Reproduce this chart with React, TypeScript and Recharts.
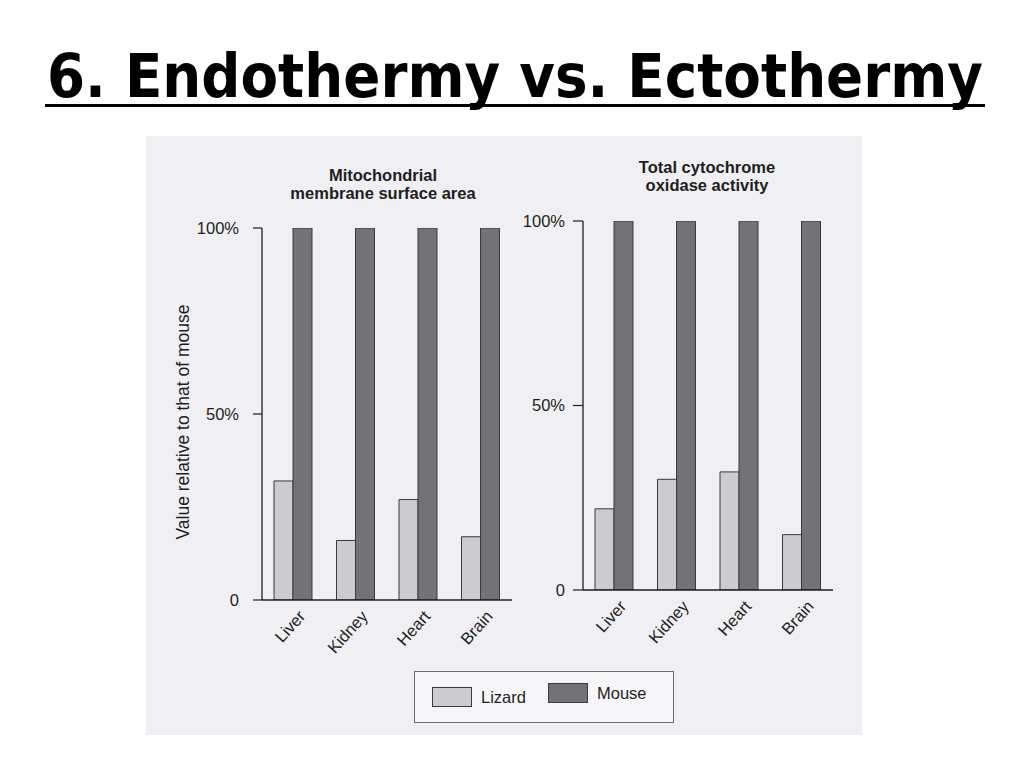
import React from "react";
import { BarChart, Bar, XAxis, YAxis, Label } from "recharts";

// ---- data ----
const categories = ["Liver", "Kidney", "Heart", "Brain"];
const mitoLizard = [32, 16, 27, 17];
const mitoMouse = [100, 100, 100, 100];
const cytoLizard = [22, 30, 32, 15];
const cytoMouse = [100, 100, 100, 100];
const yTicks = [0, 50, 100];
const seriesNames = ["Lizard", "Mouse"];
const panelTitles = [
  ["Mitochondrial", "membrane surface area"],
  ["Total cytochrome", "oxidase activity"],
];
const yLabel = "Value relative to that of mouse";
const mainTitle = "6. Endothermy vs. Ectothermy";

const LIZ = "#cbcbd0";
const MOU = "#737377";
const STROKE = "#3a3a3c";
const INK = "#1e1e20";
const FONT = "'Liberation Sans', Arial, Helvetica, sans-serif";

const mitoData = categories.map((c, i) => ({ name: c, Lizard: mitoLizard[i], Mouse: mitoMouse[i] }));
const cytoData = categories.map((c, i) => ({ name: c, Lizard: cytoLizard[i], Mouse: cytoMouse[i] }));
const colors: Record<string, string> = { Lizard: LIZ, Mouse: MOU };

const fmtY = (v: number) => (v === 0 ? "0" : `${v}%`);

const XTick = (props: any) => {
  const { x, y, payload } = props;
  return (
    <text
      x={0}
      y={0}
      transform={`translate(${x + 13},${y + 9}) rotate(-48)`}
      textAnchor="end"
      fontSize={16.5}
      fill={INK}
      fontFamily={FONT}
    >
      {payload.value}
    </text>
  );
};

const YLabelContent = (props: any) => {
  const { viewBox } = props;
  const cx = viewBox.x - 19;
  const cy = viewBox.y + 194;
  return (
    <text
      x={cx}
      y={cy}
      transform={`rotate(-90, ${cx}, ${cy})`}
      textAnchor="middle"
      dominantBaseline="central"
      fontSize={17.5}
      fill={INK}
      fontFamily={FONT}
    >
      {yLabel}
    </text>
  );
};

function Panel(props: {
  data: any[];
  width: number;
  height: number;
  margin: any;
  tickSize: number;
  tickMargin: number;
  withLabel: boolean;
}) {
  const { data, width, height, margin, tickSize, tickMargin, withLabel } = props;
  return (
    <BarChart
      width={width}
      height={height}
      data={data}
      margin={margin}
      barGap={0}
      barCategoryGap={12}
    >
      <XAxis
        dataKey="name"
        tickLine={false}
        axisLine={{ stroke: INK, strokeWidth: 1.3 }}
        tick={<XTick />}
        interval={0}
        height={60}
      />
      <YAxis
        domain={[0, 100]}
        ticks={yTicks}
        tickFormatter={fmtY}
        width={60}
        tickSize={tickSize}
        tickMargin={tickMargin}
        axisLine={{ stroke: INK, strokeWidth: 1.3 }}
        tickLine={{ stroke: INK, strokeWidth: 1.2 }}
        tick={{ fontSize: 16.5, fill: INK, fontFamily: FONT }}
        allowDataOverflow
      >
        {withLabel ? <Label content={<YLabelContent />} /> : null}
      </YAxis>
      {seriesNames.map((s) => (
        <Bar
          key={s}
          dataKey={s}
          fill={colors[s]}
          stroke={STROKE}
          strokeWidth={1}
          isAnimationActive={false}
        />
      ))}
    </BarChart>
  );
}

const titleStyle = (left: number, top: number): React.CSSProperties => ({
  position: "absolute",
  left,
  top,
  width: 260,
  textAlign: "center",
  fontFamily: FONT,
  fontWeight: "bold",
  fontSize: 16.5,
  lineHeight: "18px",
  color: INK,
});

export default function App() {
  return (
    <div
      style={{
        position: "absolute",
        left: 0,
        top: 0,
        width: 1024,
        height: 768,
        background: "#ffffff",
        overflow: "hidden",
      }}
    >
      {/* scanned page background */}
      <div
        style={{
          position: "absolute",
          left: 146,
          top: 136,
          width: 716,
          height: 599,
          background: "#f0f0f4",
        }}
      />
      {/* main title */}
      <svg width={1024} height={140} style={{ position: "absolute", left: 0, top: 0 }}>
        <text
          x={47}
          y={97}
          textLength={936}
          lengthAdjust="spacingAndGlyphs"
          fontFamily="'DejaVu Sans Condensed', 'DejaVu Sans', sans-serif"
          fontWeight="bold"
          fontSize={60}
          fill="#000"
        >
          {mainTitle}
        </text>
        <rect x={45} y={104} width={940} height={3} fill="#000" />
      </svg>

      {/* panel titles */}
      <div style={titleStyle(253, 166)}>
        {panelTitles[0][0]}
        <br />
        {panelTitles[0][1]}
      </div>
      <div style={titleStyle(577, 158)}>
        {panelTitles[1][0]}
        <br />
        {panelTitles[1][1]}
      </div>

      {/* left chart */}
      <div style={{ position: "absolute", left: 150, top: 140 }}>
        <Panel
          data={mitoData}
          width={380}
          height={530}
          margin={{ top: 88, right: 18, bottom: 10, left: 52 }}
          tickSize={9}
          tickMargin={14}
          withLabel
        />
      </div>

      {/* right chart */}
      <div style={{ position: "absolute", left: 520, top: 130 }}>
        <Panel
          data={cytoData}
          width={340}
          height={540}
          margin={{ top: 91, right: 27, bottom: 20, left: 3 }}
          tickSize={10}
          tickMargin={8}
          withLabel={false}
        />
      </div>

      {/* legend */}
      <div
        style={{
          position: "absolute",
          left: 414,
          top: 671,
          width: 258,
          height: 50,
          border: "1px solid #6a6a6e",
          background: "#f6f6f8",
          fontFamily: FONT,
          fontSize: 16.5,
          color: INK,
        }}
      >
        {seriesNames.map((s, i) => (
          <div
            key={s}
            style={{
              position: "absolute",
              left: i === 0 ? 17 : 133,
              top: i === 0 ? 15 : 11,
              display: "flex",
              alignItems: "center",
            }}
          >
            <div
              style={{
                width: 38,
                height: 18,
                background: colors[s],
                border: `1px solid ${STROKE}`,
                marginRight: 9,
              }}
            />
            <span>{s}</span>
          </div>
        ))}
      </div>
    </div>
  );
}
